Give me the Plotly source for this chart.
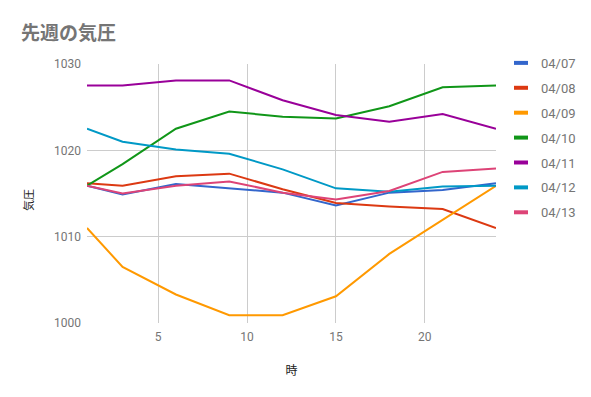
import plotly.graph_objects as go

hours = [1, 3, 6, 9, 12, 15, 18, 21, 24]
series_names = ["04/07", "04/08", "04/09", "04/10", "04/11", "04/12", "04/13"]
p0407 = [1015.9, 1014.9, 1016.1, 1015.6, 1015.1, 1013.6, 1015.1, 1015.4, 1016.2]
p0408 = [1016.2, 1015.9, 1017.0, 1017.3, 1015.5, 1013.9, 1013.5, 1013.2, 1011.0]
p0409 = [1011.0, 1006.5, 1003.3, 1000.9, 1000.9, 1003.1, 1008.0, 1012.0, 1015.9]
p0410 = [1015.9, 1018.4, 1022.5, 1024.5, 1023.9, 1023.7, 1025.1, 1027.3, 1027.5]
p0411 = [1027.5, 1027.5, 1028.1, 1028.1, 1025.8, 1024.1, 1023.3, 1024.2, 1022.5]
p0412 = [1022.5, 1021.0, 1020.1, 1019.6, 1017.8, 1015.6, 1015.2, 1015.8, 1015.9]
p0413 = [1015.9, 1015.0, 1015.9, 1016.4, 1015.1, 1014.3, 1015.3, 1017.5, 1017.9]
colors = ["#3366cc", "#dc3912", "#ff9900", "#109618", "#990099", "#0099c6", "#dd4477"]
x_ticks = [5, 10, 15, 20]
y_ticks = [1000, 1010, 1020, 1030]

values = [p0407, p0408, p0409, p0410, p0411, p0412, p0413]

fig = go.Figure()
for name, vals, col in zip(series_names, values, colors):
    fig.add_trace(go.Scatter(
        x=hours, y=vals, name=name, mode="lines",
        line=dict(color=col, width=2),
        showlegend=False, legendgroup=name,
    ))
# legend entries with short line swatches
for name, col in zip(series_names, colors):
    fig.add_trace(go.Scatter(
        x=[None], y=[None], name=name, mode="markers",
        marker=dict(symbol="line-ew", size=10, color=col,
                    line=dict(color=col, width=4)),
        legendgroup=name, showlegend=True,
    ))

W, H = 591, 397
L, R, T, B = 87, 95, 64, 74
font_family = "Roboto, 'Noto Sans CJK JP', sans-serif"
fig.update_layout(
    width=W, height=H,
    margin=dict(l=L, r=R, t=T, b=B, autoexpand=False),
    paper_bgcolor="white", plot_bgcolor="white",
    font=dict(family=font_family, color="#757575", size=12),
    title=dict(text="<b>先週の気圧</b>", x=21/W, xanchor="left", y=1 - 33/H, yanchor="middle",
               font=dict(size=19, color="#757575", family=font_family)),
    xaxis=dict(range=[1, 24], tickvals=x_ticks, showgrid=True, gridcolor="#cccccc",
               zeroline=False, showline=False, ticks="", automargin=False,
               ticklabelstandoff=5,
               title=dict(text="時", font=dict(size=12, color="#222222"), standoff=23),
               tickfont=dict(size=12, color="#757575")),
    yaxis=dict(range=[1000, 1030], tickvals=y_ticks, showgrid=True, gridcolor="#cccccc",
               zeroline=False, showline=False, ticks="", automargin=False,
               ticklabelstandoff=5,
               tickfont=dict(size=12, color="#757575")),
    legend=dict(x=(501 - L) / (W - L - R), xanchor="left", y=1.062, yanchor="top",
                font=dict(size=13, color="#757575"), tracegroupgap=5,
                bgcolor="rgba(0,0,0,0)"),
    annotations=[dict(text="気圧", textangle=-90, xref="paper", yref="paper",
                      x=(28.5 - L) / (W - L - R), y=(H - B - 200.5) / (H - T - B),
                      xanchor="center", yanchor="middle", showarrow=False,
                      font=dict(size=11, color="#222222", family=font_family))],
)

fig.write_html("out.html", config={"displayModeBar": False},
               post_script="document.body.style.margin='0';document.body.style.padding='0';")
